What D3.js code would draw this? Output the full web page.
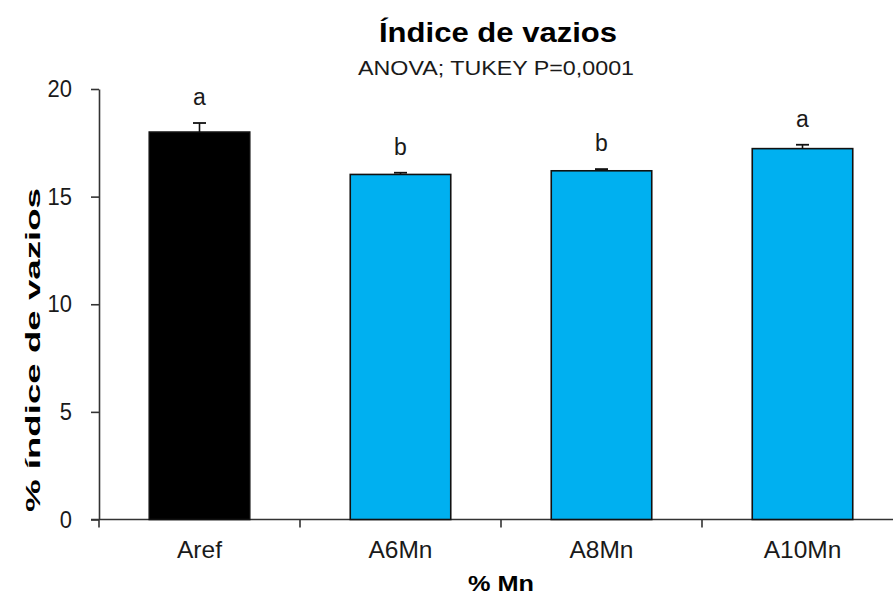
<!DOCTYPE html>
<html>
<head>
<meta charset="utf-8">
<script src="https://cdn.jsdelivr.net/npm/d3@7"></script>
<style>
  html, body { margin: 0; padding: 0; background: #fff; }
  svg { display: block; font-family: "Liberation Sans", Arial, sans-serif; }
</style>
</head>
<body>
<svg id="chart" width="893" height="598"></svg>
<script>
const categories = ["Aref", "A6Mn", "A8Mn", "A10Mn"];
const means = [18.0, 16.03, 16.2, 17.23];
const errors = [0.42, 0.08, 0.08, 0.18];
const letters = ["a", "b", "b", "a"];
const colors = ["#000000", "#00B0F0", "#00B0F0", "#00B0F0"];
const yTicks = [0, 5, 10, 15, 20];

const svg = d3.select("#chart");
const textColor = "#1a1a1a";

const x = d3.scaleBand().domain(categories).range([99, 903]).paddingInner(0.5).paddingOuter(0.25);
const y = d3.scaleLinear().domain([0, 20]).range([519.5, 89]);
const gap = (x.step() - x.bandwidth()) / 2;

// Y axis
const yAxis = svg.append("g").attr("transform", "translate(99,0)")
  .call(d3.axisLeft(y).tickValues(yTicks).tickSize(8).tickPadding(19).tickSizeOuter(0));
yAxis.select(".domain").attr("stroke", "#333").attr("stroke-width", 1.6);
yAxis.selectAll(".tick line").attr("stroke", "#333").attr("stroke-width", 1.6);
yAxis.selectAll(".tick text").attr("font-size", 23.5).attr("fill", textColor)
  .attr("font-family", "Liberation Sans, Arial, sans-serif")
  .each(function() { d3.select(this).attr("textLength", this.textContent.length * 12.2).attr("lengthAdjust", "spacingAndGlyphs"); });

// X axis (ticks at category boundaries)
const xAxisG = svg.append("g").attr("transform", `translate(0,${y(0)})`);
xAxisG.append("line").attr("x1", 91).attr("x2", 903).attr("y1", 0).attr("y2", 0)
  .attr("stroke", "#333").attr("stroke-width", 1.6);
xAxisG.selectAll("line.bt").data(categories).join("line").attr("class", "bt")
  .attr("x1", d => x(d) - gap).attr("x2", d => x(d) - gap)
  .attr("y1", 0).attr("y2", 8).attr("stroke", "#333").attr("stroke-width", 1.6);
xAxisG.selectAll("text").data(categories).join("text")
  .attr("x", d => x(d) + x.bandwidth() / 2).attr("y", 38.5)
  .attr("text-anchor", "middle").attr("font-size", 24.5).attr("fill", textColor)
  .text(d => d);

// Bars
const data = categories.map((c, i) => ({ c, v: means[i], e: errors[i], l: letters[i], col: colors[i] }));
svg.selectAll("rect.bar").data(data).join("rect").attr("class", "bar")
  .attr("x", d => x(d.c)).attr("width", x.bandwidth())
  .attr("y", d => y(d.v)).attr("height", d => y(0) - y(d.v))
  .attr("fill", d => d.col).attr("stroke", "#111").attr("stroke-width", 1.6);

// Error bars
svg.selectAll("line.err").data(data).join("line").attr("class", "err")
  .attr("x1", d => x(d.c) + x.bandwidth() / 2).attr("x2", d => x(d.c) + x.bandwidth() / 2)
  .attr("y1", d => y(d.v)).attr("y2", d => y(d.v + d.e))
  .attr("stroke", "#111").attr("stroke-width", 1.6);
svg.selectAll("line.cap").data(data).join("line").attr("class", "cap")
  .attr("x1", d => x(d.c) + x.bandwidth() / 2 - 6.5).attr("x2", d => x(d.c) + x.bandwidth() / 2 + 6.5)
  .attr("y1", d => y(d.v + d.e)).attr("y2", d => y(d.v + d.e))
  .attr("stroke", "#111").attr("stroke-width", 1.8);

// Letters
svg.selectAll("text.letter").data(data).join("text").attr("class", "letter")
  .attr("x", d => x(d.c) + x.bandwidth() / 2).attr("y", d => y(d.v + d.e) - 18)
  .attr("text-anchor", "middle").attr("font-size", 23).attr("fill", textColor)
  .text(d => d.l);

// Titles
svg.append("text").attr("x", 498).attr("y", 42).attr("text-anchor", "middle")
  .attr("font-size", 27).attr("font-weight", "bold").attr("fill", "#000")
  .attr("textLength", 238).attr("lengthAdjust", "spacingAndGlyphs")
  .text("Índice de vazios");
svg.append("text").attr("x", 496).attr("y", 74.5).attr("text-anchor", "middle")
  .attr("font-size", 20).attr("fill", textColor)
  .attr("textLength", 276).attr("lengthAdjust", "spacingAndGlyphs")
  .text("ANOVA; TUKEY P=0,0001");

// Axis titles
svg.append("text").attr("transform", "translate(39.5,350) rotate(-90)")
  .attr("text-anchor", "middle").attr("font-size", 19.5).attr("font-weight", "bold").attr("fill", "#000")
  .attr("textLength", 324).attr("lengthAdjust", "spacingAndGlyphs")
  .text("% índice de vazios");
svg.append("text").attr("x", 501).attr("y", 591).attr("text-anchor", "middle")
  .attr("font-size", 22).attr("font-weight", "bold").attr("fill", "#000")
  .attr("textLength", 66).attr("lengthAdjust", "spacingAndGlyphs")
  .text("% Mn");
</script>
</body>
</html>
